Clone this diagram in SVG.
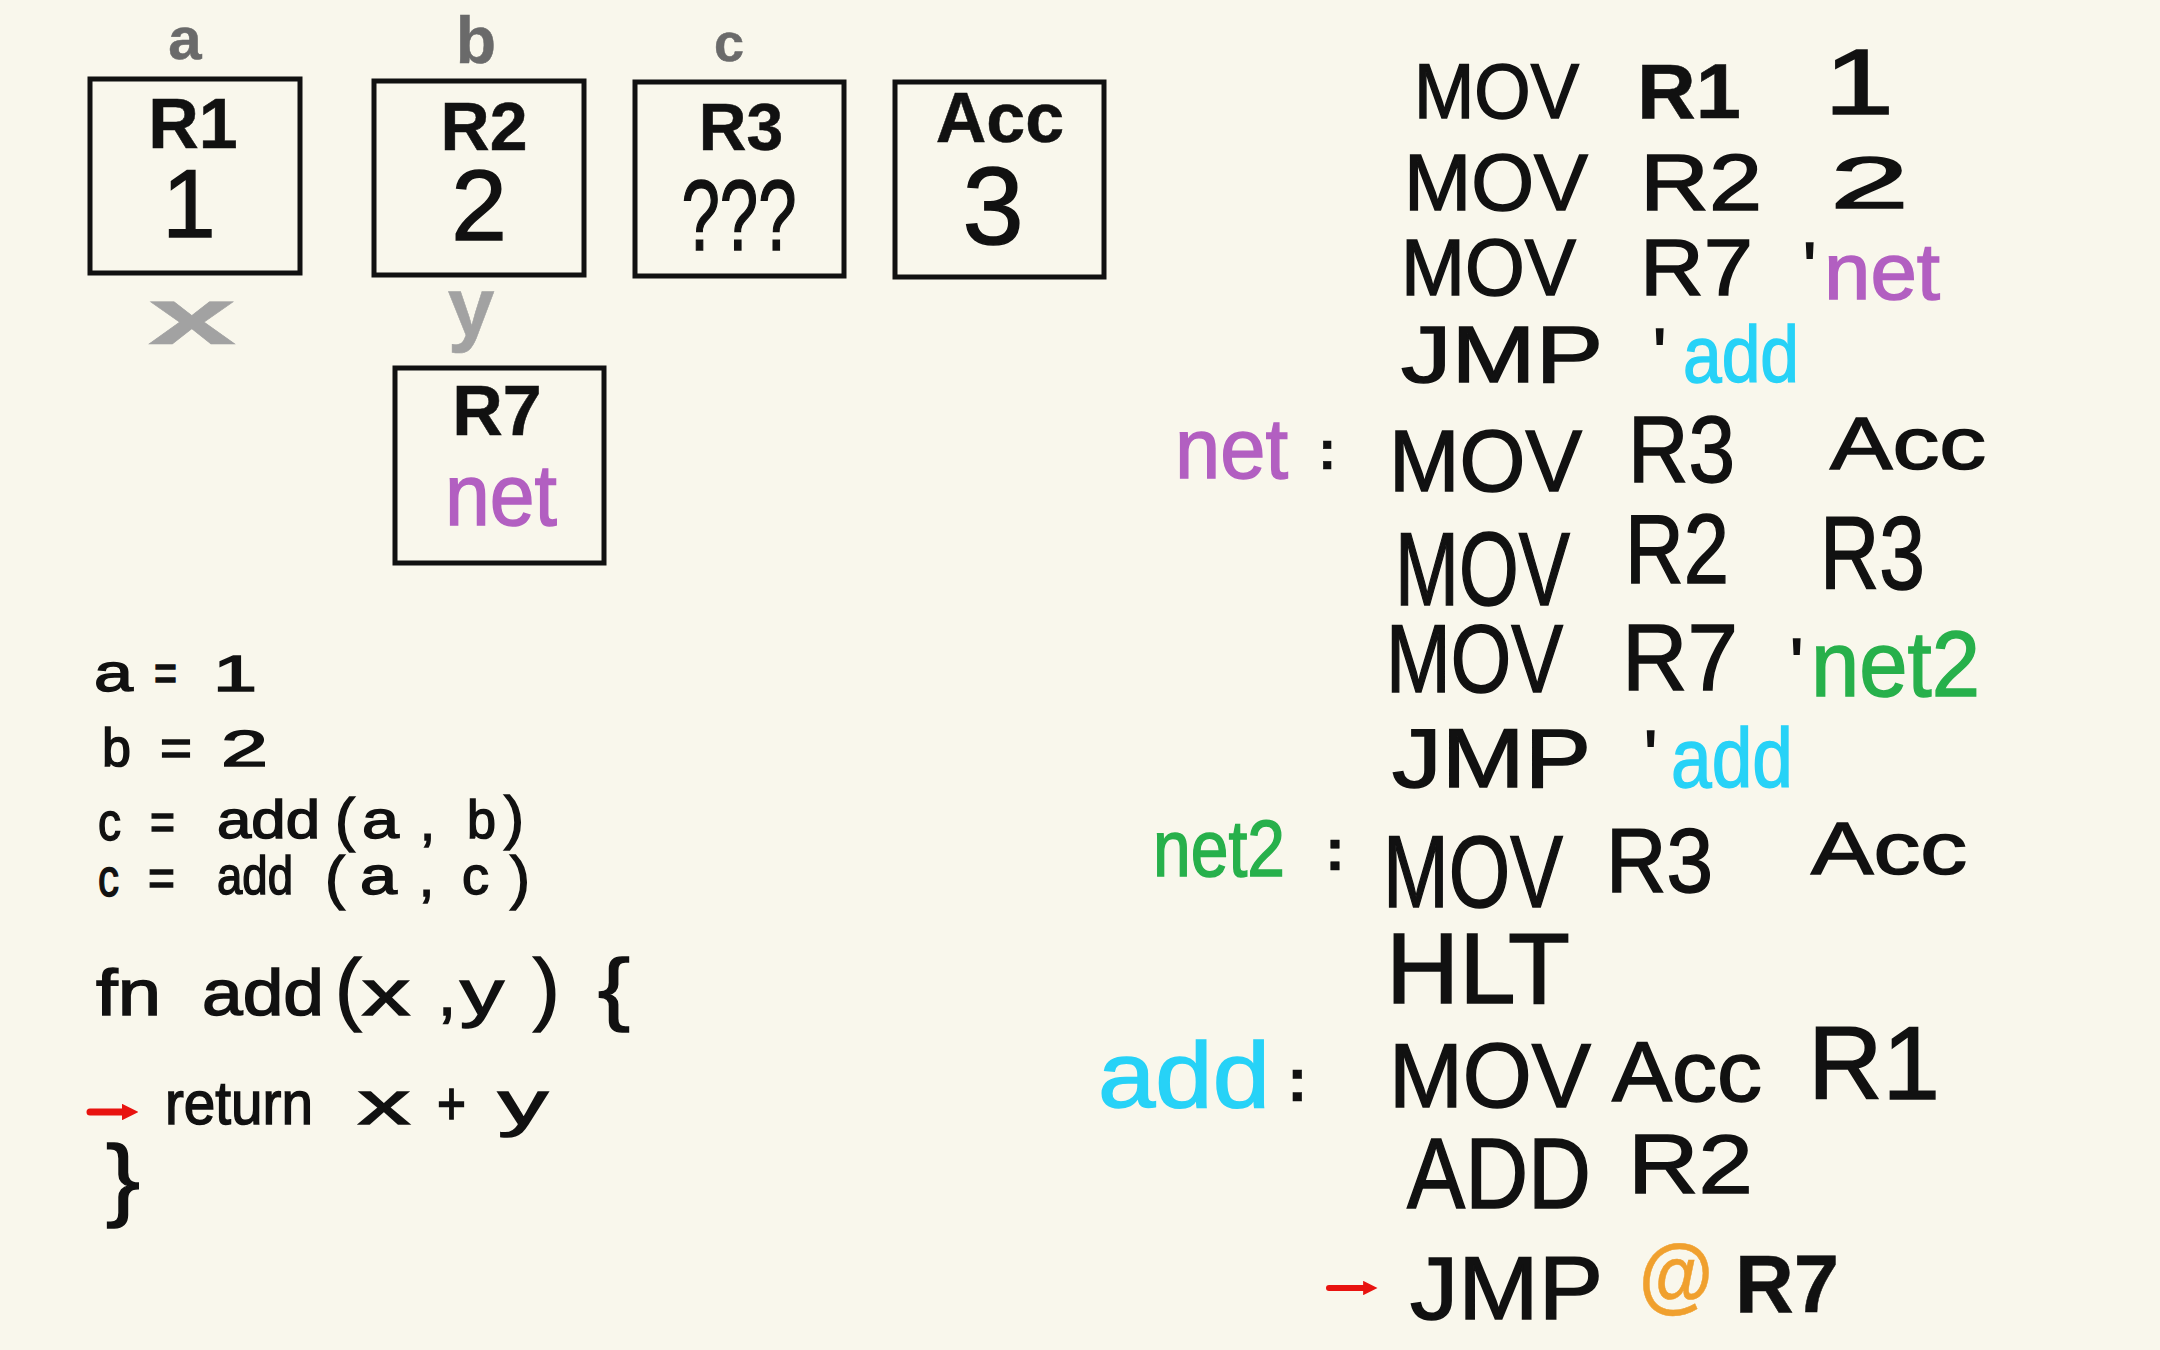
<svg xmlns="http://www.w3.org/2000/svg" width="2160" height="1350" viewBox="0 0 2160 1350">
<defs>
<style>
text{font-family:"Liberation Sans",Arial,sans-serif;fill:#111;stroke:#111;stroke-width:1.5;}
.b{font-weight:bold;stroke-width:0.5;}
.box{fill:none;stroke:#111;stroke-width:5;}
.mid{text-anchor:middle;}
.g1{fill:#6a6a6a;stroke:#6a6a6a;}
.g2{fill:#a2a2a2;stroke:#a2a2a2;}
.pu{fill:#b25fc1;stroke:#b25fc1;}
.cy{fill:#27d2f7;stroke:#27d2f7;}
.gr{fill:#27b04b;stroke:#27b04b;}
.or{fill:#f0a02e;stroke:#f0a02e;}
.arrow{stroke:#e8130f;fill:none;stroke-linecap:round;}
</style>
<marker id="ah" viewBox="0 0 10 10" refX="2" refY="5" markerWidth="2.4" markerHeight="2.4" orient="auto" markerUnits="strokeWidth">
<path d="M0 0 L10 5 L0 10 Z" fill="#e8130f"/>
</marker>
</defs>
<rect width="2160" height="1350" fill="#f9f7ec"/>

<g id="var-labels">
<text class="g1 mid b" x="185" y="59" font-size="60">a</text>
<text class="g1 mid b" x="476" y="63" font-size="66">b</text>
<text class="g1 mid b" x="729" y="61" font-size="54">c</text>
<text class="g2 mid b" x="192" y="344" font-size="80" textLength="88" lengthAdjust="spacingAndGlyphs">x</text>
<text class="g2 mid b" x="471" y="336" font-size="84">y</text>
</g>

<g id="node-R1">
<rect class="box" x="90" y="79" width="210" height="194"/>
<text class="mid b" x="193" y="148" font-size="70">R1</text>
<text class="mid" x="189" y="237" font-size="96">1</text>
</g>
<g id="node-R2">
<rect class="box" x="374" y="81" width="210" height="194"/>
<text class="mid b" x="484" y="150" font-size="68">R2</text>
<text class="mid" x="479" y="240" font-size="100">2</text>
</g>
<g id="node-R3">
<rect class="box" x="635" y="82" width="209" height="194"/>
<text class="mid b" x="741" y="150" font-size="66">R3</text>
<text class="mid" x="739" y="250" font-size="100" textLength="115" lengthAdjust="spacingAndGlyphs">???</text>
</g>
<g id="node-Acc">
<rect class="box" x="895" y="82" width="209" height="195"/>
<text class="mid b" x="1000" y="142" font-size="70">Acc</text>
<text class="mid" x="993" y="244" font-size="110">3</text>
</g>
<g id="node-R7">
<rect class="box" x="395" y="368" width="209" height="195"/>
<text class="mid b" x="497" y="435" font-size="70">R7</text>
<text class="mid pu" x="501" y="525" font-size="88" textLength="112" lengthAdjust="spacingAndGlyphs">net</text>
</g>

<g id="source-code">
<g font-size="54">
<text x="94" y="691" textLength="39" lengthAdjust="spacingAndGlyphs">a</text>
<text x="154" y="691" textLength="23" lengthAdjust="spacingAndGlyphs">=</text>
<text x="213" y="691" font-size="50" textLength="44" lengthAdjust="spacingAndGlyphs">1</text>

<text x="102" y="766" textLength="29" lengthAdjust="spacingAndGlyphs">b</text>
<text x="160" y="766" textLength="32" lengthAdjust="spacingAndGlyphs">=</text>
<text x="221" y="766" font-size="50" textLength="47" lengthAdjust="spacingAndGlyphs">2</text>

<text x="98" y="840" textLength="23" lengthAdjust="spacingAndGlyphs">c</text>
<text x="150" y="840" textLength="25" lengthAdjust="spacingAndGlyphs">=</text>
<text x="217" y="838" textLength="103" lengthAdjust="spacingAndGlyphs">add</text>
<text x="335" y="840" font-size="60">(</text>
<text x="362" y="838" textLength="37" lengthAdjust="spacingAndGlyphs">a</text>
<text x="420" y="840">,</text>
<text x="467" y="838" textLength="29" lengthAdjust="spacingAndGlyphs">b</text>
<text x="504" y="838" font-size="60">)</text>

<text x="98" y="896" textLength="21" lengthAdjust="spacingAndGlyphs">c</text>
<text x="148" y="896" textLength="27" lengthAdjust="spacingAndGlyphs">=</text>
<text x="217" y="894" textLength="76" lengthAdjust="spacingAndGlyphs">add</text>
<text x="325" y="898" font-size="60">(</text>
<text x="360" y="894" textLength="37" lengthAdjust="spacingAndGlyphs">a</text>
<text x="419" y="896">,</text>
<text x="462" y="894" textLength="27" lengthAdjust="spacingAndGlyphs">c</text>
<text x="510" y="898" font-size="60">)</text>
</g>
<g font-size="65">
<text x="96" y="1015" textLength="65" lengthAdjust="spacingAndGlyphs">fn</text>
<text x="202" y="1015" textLength="122" lengthAdjust="spacingAndGlyphs">add</text>
<text x="335" y="1015" font-size="80">(</text>
<text x="362" y="1015" textLength="48" lengthAdjust="spacingAndGlyphs">x</text>
<text x="438" y="1015">,</text>
<text x="460" y="1015" textLength="44" lengthAdjust="spacingAndGlyphs">y</text>
<text x="533" y="1015" font-size="80">)</text>
<text x="598" y="1015" font-size="80" textLength="32" lengthAdjust="spacingAndGlyphs">{</text>
</g>
<g font-size="62">
<text x="165" y="1124" textLength="148" lengthAdjust="spacingAndGlyphs">return</text>
<text x="358" y="1124" textLength="52" lengthAdjust="spacingAndGlyphs">x</text>
<text x="437" y="1124" textLength="29" lengthAdjust="spacingAndGlyphs">+</text>
<text x="498" y="1124" textLength="50" lengthAdjust="spacingAndGlyphs">y</text>
</g>
<text x="106" y="1209" font-size="90" textLength="34" lengthAdjust="spacingAndGlyphs">}</text>
</g>

<g id="assembly">
<text x="1414" y="118" font-size="78" textLength="165" lengthAdjust="spacingAndGlyphs">MOV</text>
<text x="1637" y="118" font-size="78" textLength="104" lengthAdjust="spacingAndGlyphs" class="b">R1</text>
<text x="1824" y="114" font-size="92" textLength="70" lengthAdjust="spacingAndGlyphs">1</text>

<text x="1404" y="210" font-size="80" textLength="184" lengthAdjust="spacingAndGlyphs">MOV</text>
<text x="1640" y="210" font-size="80" textLength="122" lengthAdjust="spacingAndGlyphs">R2</text>
<text x="1830" y="208" font-size="72" textLength="79" lengthAdjust="spacingAndGlyphs">2</text>

<text x="1401" y="295" font-size="80" textLength="175" lengthAdjust="spacingAndGlyphs">MOV</text>
<text x="1640" y="295" font-size="80" textLength="113" lengthAdjust="spacingAndGlyphs">R7</text>
<text x="1803" y="292" font-size="70">'</text>
<text x="1824" y="299" font-size="80" textLength="116" lengthAdjust="spacingAndGlyphs" class="pu">net</text>

<text x="1401" y="382" font-size="80" textLength="202" lengthAdjust="spacingAndGlyphs">JMP</text>
<text x="1653" y="378" font-size="70">'</text>
<text x="1683" y="382" font-size="80" textLength="116" lengthAdjust="spacingAndGlyphs" class="cy">add</text>

<text x="1175" y="478" font-size="85" textLength="113" lengthAdjust="spacingAndGlyphs" class="pu">net</text>
<text x="1318" y="469" font-size="55" class="b">:</text>
<text x="1389" y="491" font-size="88" textLength="193" lengthAdjust="spacingAndGlyphs">MOV</text>
<text x="1628" y="482" font-size="94" textLength="107" lengthAdjust="spacingAndGlyphs">R3</text>
<text x="1830" y="469" font-size="75" textLength="156" lengthAdjust="spacingAndGlyphs">Acc</text>

<text x="1395" y="605" font-size="104" textLength="175" lengthAdjust="spacingAndGlyphs">MOV</text>
<text x="1625" y="583" font-size="98" textLength="104" lengthAdjust="spacingAndGlyphs">R2</text>
<text x="1820" y="589" font-size="104" textLength="105" lengthAdjust="spacingAndGlyphs">R3</text>

<text x="1386" y="692" font-size="96" textLength="177" lengthAdjust="spacingAndGlyphs">MOV</text>
<text x="1622" y="690" font-size="94" textLength="116" lengthAdjust="spacingAndGlyphs">R7</text>
<text x="1790" y="688" font-size="70">'</text>
<text x="1811" y="696" font-size="92" textLength="169" lengthAdjust="spacingAndGlyphs" class="gr">net2</text>

<text x="1392" y="787" font-size="84" textLength="199" lengthAdjust="spacingAndGlyphs">JMP</text>
<text x="1644" y="780" font-size="70">'</text>
<text x="1671" y="787" font-size="84" textLength="122" lengthAdjust="spacingAndGlyphs" class="cy">add</text>

<text x="1153" y="876" font-size="80" textLength="132" lengthAdjust="spacingAndGlyphs" class="gr">net2</text>
<text x="1325" y="870" font-size="60" class="b">:</text>
<text x="1383" y="907" font-size="102" textLength="180" lengthAdjust="spacingAndGlyphs">MOV</text>
<text x="1606" y="892" font-size="90" textLength="107" lengthAdjust="spacingAndGlyphs">R3</text>
<text x="1811" y="874" font-size="74" textLength="156" lengthAdjust="spacingAndGlyphs">Acc</text>

<text x="1386" y="1003" font-size="100" textLength="184" lengthAdjust="spacingAndGlyphs">HLT</text>

<text x="1098" y="1107" font-size="92" textLength="172" lengthAdjust="spacingAndGlyphs" class="cy">add</text>
<text x="1287" y="1101" font-size="62" class="b">:</text>
<text x="1389" y="1107" font-size="90" textLength="202" lengthAdjust="spacingAndGlyphs">MOV</text>
<text x="1612" y="1101" font-size="86" textLength="150" lengthAdjust="spacingAndGlyphs">Acc</text>
<text x="1808" y="1099" font-size="104" textLength="132" lengthAdjust="spacingAndGlyphs">R1</text>

<text x="1407" y="1208" font-size="100" textLength="184" lengthAdjust="spacingAndGlyphs">ADD</text>
<text x="1628" y="1193" font-size="84" textLength="125" lengthAdjust="spacingAndGlyphs">R2</text>

<text x="1410" y="1319" font-size="89" textLength="193" lengthAdjust="spacingAndGlyphs">JMP</text>
<text x="1676" y="1303" font-size="84" textLength="74" lengthAdjust="spacingAndGlyphs" class="or mid b">@</text>
<text x="1735" y="1312" font-size="82" textLength="104" lengthAdjust="spacingAndGlyphs" class="b">R7</text>
</g>

<g id="connectors">
<path class="arrow" d="M90 1112 H125" stroke-width="7" marker-end="url(#ah)"/>
<path class="arrow" d="M1329 1288 H1366" stroke-width="6" marker-end="url(#ah)"/>
</g>
</svg>
